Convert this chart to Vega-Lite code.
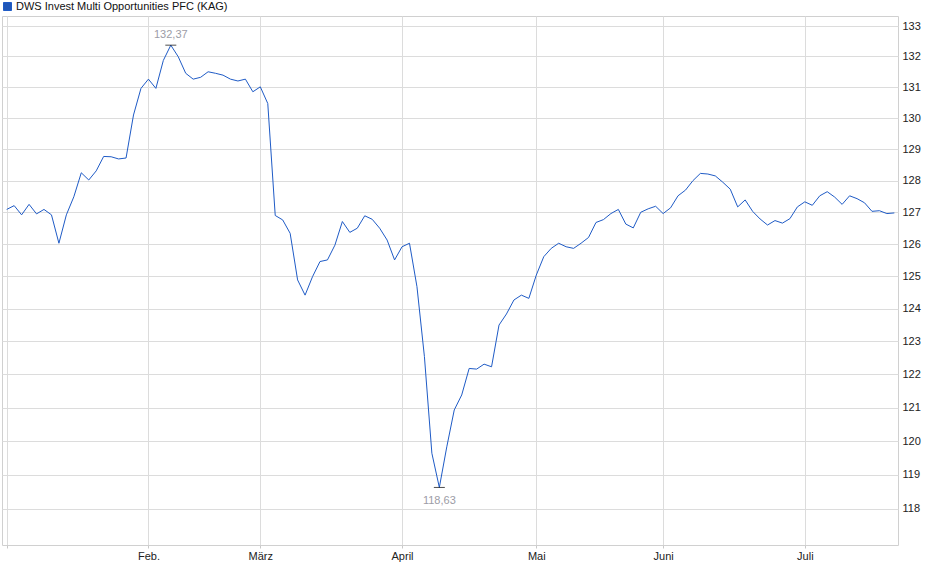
{
  "$schema": "https://vega.github.io/schema/vega-lite/v6.json",
  "width": 896,
  "height": 529,
  "autosize": {"type": "none"},
  "padding": {"left": 2, "top": 16, "right": 42, "bottom": 34},
  "background": "white",
  "config": {
    "font": "Liberation Sans",
    "view": {"stroke": "#d0d0d0"},
    "axis": {"labelFont": "Liberation Sans", "labelFontSize": 11, "labelColor": "#222222", "gridColor": "#dcdcdc", "domain": false, "title": null}
  },
  "data": {
    "values": [
      {"n": 0, "v": 127.09}, {"n": 1, "v": 127.21}, {"n": 2, "v": 126.92}, {"n": 3, "v": 127.25},
      {"n": 4, "v": 126.95}, {"n": 5, "v": 127.09}, {"n": 6, "v": 126.92}, {"n": 7, "v": 126.03},
      {"n": 8, "v": 126.92}, {"n": 9, "v": 127.49}, {"n": 10, "v": 128.25}, {"n": 11, "v": 128.02},
      {"n": 12, "v": 128.31}, {"n": 13, "v": 128.77}, {"n": 14, "v": 128.76}, {"n": 15, "v": 128.69},
      {"n": 16, "v": 128.72}, {"n": 17, "v": 130.1}, {"n": 18, "v": 130.96}, {"n": 19, "v": 131.26},
      {"n": 20, "v": 130.96}, {"n": 21, "v": 131.87}, {"n": 22, "v": 132.37}, {"n": 23, "v": 131.99},
      {"n": 24, "v": 131.45}, {"n": 25, "v": 131.26}, {"n": 26, "v": 131.32}, {"n": 27, "v": 131.5},
      {"n": 28, "v": 131.45}, {"n": 29, "v": 131.39}, {"n": 30, "v": 131.26}, {"n": 31, "v": 131.2},
      {"n": 32, "v": 131.26}, {"n": 33, "v": 130.85}, {"n": 34, "v": 131.01}, {"n": 35, "v": 130.47},
      {"n": 36, "v": 126.9}, {"n": 37, "v": 126.76}, {"n": 38, "v": 126.34}, {"n": 39, "v": 124.89},
      {"n": 40, "v": 124.42}, {"n": 41, "v": 124.99}, {"n": 42, "v": 125.46}, {"n": 43, "v": 125.51},
      {"n": 44, "v": 125.97}, {"n": 45, "v": 126.71}, {"n": 46, "v": 126.37}, {"n": 47, "v": 126.5},
      {"n": 48, "v": 126.89}, {"n": 49, "v": 126.78}, {"n": 50, "v": 126.5}, {"n": 51, "v": 126.13},
      {"n": 52, "v": 125.51}, {"n": 53, "v": 125.92}, {"n": 54, "v": 126.03}, {"n": 55, "v": 124.68},
      {"n": 56, "v": 122.54}, {"n": 57, "v": 119.64}, {"n": 58, "v": 118.63}, {"n": 59, "v": 119.83},
      {"n": 60, "v": 120.93}, {"n": 61, "v": 121.38}, {"n": 62, "v": 122.18}, {"n": 63, "v": 122.16},
      {"n": 64, "v": 122.31}, {"n": 65, "v": 122.23}, {"n": 66, "v": 123.5}, {"n": 67, "v": 123.84},
      {"n": 68, "v": 124.27}, {"n": 69, "v": 124.42}, {"n": 70, "v": 124.32}, {"n": 71, "v": 125.04},
      {"n": 72, "v": 125.61}, {"n": 73, "v": 125.87}, {"n": 74, "v": 126.03}, {"n": 75, "v": 125.92},
      {"n": 76, "v": 125.87}, {"n": 77, "v": 126.03}, {"n": 78, "v": 126.21}, {"n": 79, "v": 126.68},
      {"n": 80, "v": 126.77}, {"n": 81, "v": 126.96}, {"n": 82, "v": 127.09}, {"n": 83, "v": 126.63},
      {"n": 84, "v": 126.51}, {"n": 85, "v": 127.0}, {"n": 86, "v": 127.11}, {"n": 87, "v": 127.19},
      {"n": 88, "v": 126.96}, {"n": 89, "v": 127.14}, {"n": 90, "v": 127.52}, {"n": 91, "v": 127.7},
      {"n": 92, "v": 128.0}, {"n": 93, "v": 128.23}, {"n": 94, "v": 128.21}, {"n": 95, "v": 128.15},
      {"n": 96, "v": 127.95}, {"n": 97, "v": 127.73}, {"n": 98, "v": 127.17}, {"n": 99, "v": 127.39},
      {"n": 100, "v": 127.03}, {"n": 101, "v": 126.79}, {"n": 102, "v": 126.6}, {"n": 103, "v": 126.74},
      {"n": 104, "v": 126.66}, {"n": 105, "v": 126.8}, {"n": 106, "v": 127.17}, {"n": 107, "v": 127.33},
      {"n": 108, "v": 127.22}, {"n": 109, "v": 127.52}, {"n": 110, "v": 127.65}, {"n": 111, "v": 127.48},
      {"n": 112, "v": 127.25}, {"n": 113, "v": 127.52}, {"n": 114, "v": 127.43}, {"n": 115, "v": 127.3},
      {"n": 116, "v": 127.03}, {"n": 117, "v": 127.05}, {"n": 118, "v": 126.96}, {"n": 119, "v": 126.98}
    ]
  },
  "encoding": {
    "x": {
      "field": "n", "type": "quantitative",
      "scale": {"domain": [-0.63, 119.49], "nice": false, "zero": false},
      "axis": {
        "values": [0, 19, 34, 53, 71, 88, 107],
        "labelExpr": "datum.value == 19 ? 'Feb.' : datum.value == 34 ? 'März' : datum.value == 53 ? 'April' : datum.value == 71 ? 'Mai' : datum.value == 88 ? 'Juni' : datum.value == 107 ? 'Juli' : ''",
        "grid": true, "tickColor": "#c8c8c8", "tickSize": 3, "labelPadding": 2,
        "labelFlush": false, "labelOverlap": false
      }
    },
    "y": {
      "field": "v", "type": "quantitative",
      "scale": {"type": "log", "domain": [116.95, 133.33], "nice": false, "zero": false},
      "axis": {
        "orient": "right",
        "values": [118, 119, 120, 121, 122, 123, 124, 125, 126, 127, 128, 129, 130, 131, 132, 133],
        "format": "d", "grid": true, "ticks": false, "labelPadding": 4, "labelOverlap": false
      }
    }
  },
  "layer": [
    {
      "mark": {"type": "line", "strokeWidth": 1, "interpolate": "linear"},
      "encoding": {
        "color": {
          "datum": "DWS Invest Multi Opportunities PFC (KAG)", "type": "nominal",
          "scale": {"range": ["#1f5bc6"]},
          "legend": {
            "title": null, "orient": "none", "legendX": 0, "legendY": -15,
            "padding": 0, "symbolType": "square", "symbolSize": 64, "labelOffset": 3,
            "labelLimit": 0,
            "labelFont": "Liberation Sans", "labelFontSize": 11, "labelColor": "#111111",
            "encode": {"symbols": {"update": {"fill": {"value": "#1f56b8"}, "stroke": {"value": "#1a2744"}, "strokeWidth": {"value": 1}}}}
          }
        }
      }
    },
    {
      "transform": [
        {"joinaggregate": [{"op": "max", "field": "v", "as": "vmax"}, {"op": "min", "field": "v", "as": "vmin"}]},
        {"filter": "datum.v == datum.vmax || datum.v == datum.vmin"}
      ],
      "mark": {"type": "tick", "orient": "horizontal", "size": 11, "thickness": 1, "color": "#000000"}
    },
    {
      "transform": [
        {"joinaggregate": [{"op": "max", "field": "v", "as": "vmax"}]},
        {"filter": "datum.v == datum.vmax"},
        {"calculate": "replace(format(datum.v, '.2f'), '.', ',')", "as": "label"}
      ],
      "mark": {"type": "text", "dy": -7, "baseline": "alphabetic", "align": "center", "fontSize": 11, "color": "#9c9ca6"},
      "encoding": {"text": {"field": "label"}}
    },
    {
      "transform": [
        {"joinaggregate": [{"op": "min", "field": "v", "as": "vmin"}]},
        {"filter": "datum.v == datum.vmin"},
        {"calculate": "replace(format(datum.v, '.2f'), '.', ',')", "as": "label"}
      ],
      "mark": {"type": "text", "dy": 17, "baseline": "alphabetic", "align": "center", "fontSize": 11, "color": "#9c9ca6"},
      "encoding": {"text": {"field": "label"}}
    }
  ]
}
